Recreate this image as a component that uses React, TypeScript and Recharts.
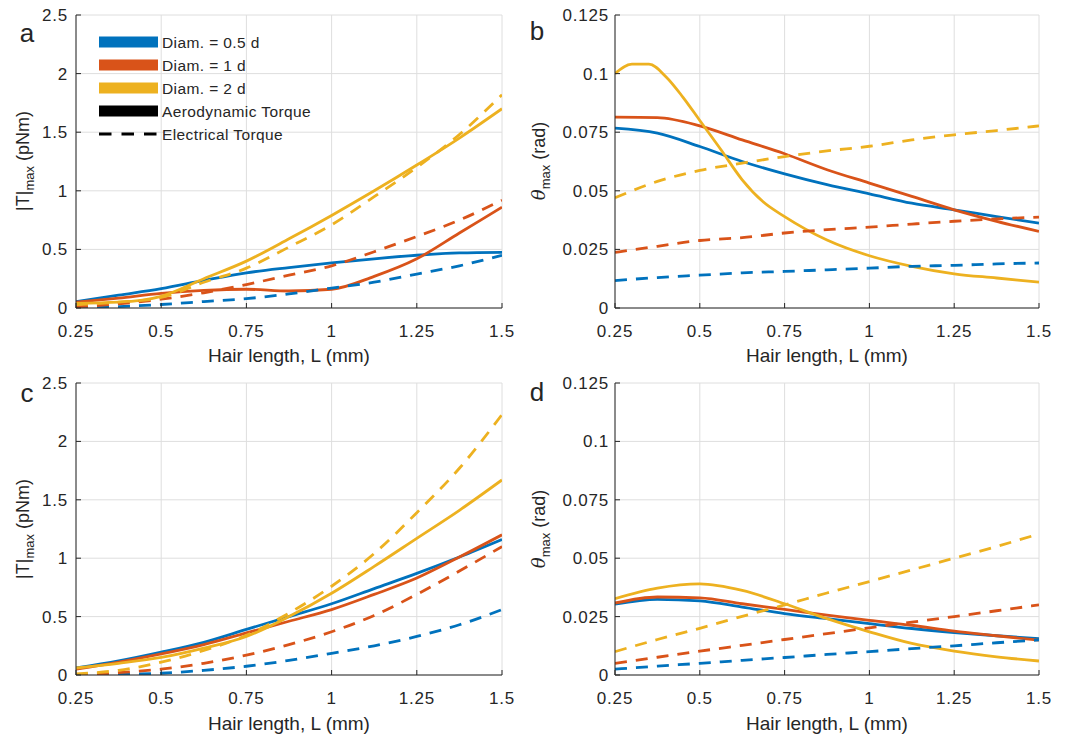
import React from "react";
import { LineChart, Line, XAxis, YAxis, CartesianGrid } from "recharts";

// hair length samples (mm)
const hairLength = [0.25, 0.375, 0.5, 0.625, 0.75, 0.875, 1, 1.125, 1.25, 1.375, 1.5];
// finer sampling for the peaked curve in panel b
const hairLengthFine = [0.25, 0.3, 0.35, 0.4, 0.45, 0.5, 0.5625, 0.625, 0.6875, 0.75, 0.875, 1, 1.125, 1.25, 1.375, 1.5];

const xTicks = [0.25, 0.5, 0.75, 1, 1.25, 1.5];
const torqueTicks = [0, 0.5, 1, 1.5, 2, 2.5];
const angleTicks = [0, 0.025, 0.05, 0.075, 0.1, 0.125];

// panel a: max torque (pNm)
const aBlueSolid = [0.055, 0.11, 0.165, 0.235, 0.3, 0.345, 0.385, 0.42, 0.45, 0.47, 0.475];
const aRedSolid = [0.05, 0.085, 0.125, 0.15, 0.16, 0.145, 0.16, 0.27, 0.42, 0.64, 0.86];
const aYellowSolid = [0.04, 0.05, 0.1, 0.25, 0.4, 0.59, 0.79, 1.0, 1.22, 1.45, 1.7];
const aBlueDash = [0.005, 0.012, 0.03, 0.055, 0.08, 0.12, 0.17, 0.22, 0.29, 0.36, 0.45];
const aRedDash = [0.01, 0.035, 0.075, 0.13, 0.2, 0.28, 0.36, 0.48, 0.61, 0.75, 0.92];
const aYellowDash = [0.03, 0.05, 0.09, 0.22, 0.34, 0.52, 0.71, 0.95, 1.2, 1.48, 1.82];

// panel b: max deflection (rad)
const bBlueSolid = [0.0767, 0.0746, 0.0689, 0.0625, 0.0572, 0.0526, 0.0487, 0.0447, 0.0419, 0.039, 0.0362];
const bRedSolid = [0.0814, 0.0812, 0.0777, 0.0717, 0.0658, 0.059, 0.0533, 0.0476, 0.0419, 0.037, 0.0327];
const bYellowSolid = [0.1, 0.104, 0.104, 0.0987, 0.09, 0.08, 0.0675, 0.0547, 0.0452, 0.039, 0.029, 0.0223, 0.0178, 0.0146, 0.0128, 0.011];
const bBlueDash = [0.0117, 0.013, 0.014, 0.015, 0.0156, 0.0163, 0.017, 0.0178, 0.0182, 0.0188, 0.0192];
const bRedDash = [0.0237, 0.0263, 0.0288, 0.03, 0.032, 0.0334, 0.0345, 0.0358, 0.037, 0.038, 0.0388];
const bYellowDash = [0.047, 0.054, 0.0587, 0.0618, 0.0646, 0.067, 0.069, 0.0717, 0.0739, 0.0757, 0.0777];

// panel c: max torque (pNm)
const cBlueSolid = [0.06, 0.12, 0.195, 0.28, 0.39, 0.5, 0.61, 0.74, 0.87, 1.01, 1.16];
const cRedSolid = [0.05, 0.11, 0.18, 0.26, 0.36, 0.46, 0.56, 0.69, 0.83, 1.01, 1.2];
const cYellowSolid = [0.06, 0.1, 0.15, 0.23, 0.33, 0.5, 0.7, 0.93, 1.17, 1.41, 1.67];
const cBlueDash = [0.0, 0.005, 0.015, 0.04, 0.075, 0.125, 0.185, 0.25, 0.33, 0.43, 0.56];
const cRedDash = [0.0, 0.02, 0.05, 0.1, 0.17, 0.26, 0.37, 0.51, 0.69, 0.89, 1.1];
const cYellowDash = [0.01, 0.04, 0.11, 0.21, 0.34, 0.53, 0.76, 1.04, 1.39, 1.77, 2.23];

// panel d: max deflection (rad)
const dBlueSolid = [0.0303, 0.0324, 0.0317, 0.0291, 0.0263, 0.0241, 0.022, 0.0199, 0.0182, 0.0168, 0.0156];
const dRedSolid = [0.0308, 0.0334, 0.033, 0.0305, 0.0281, 0.0256, 0.0234, 0.0213, 0.0188, 0.0168, 0.0149];
const dYellowSolid = [0.0327, 0.0372, 0.039, 0.0362, 0.0305, 0.0241, 0.0185, 0.0135, 0.0102, 0.0078, 0.006];
const dBlueDash = [0.0025, 0.0038, 0.005, 0.0063, 0.0075, 0.0088, 0.01, 0.0113, 0.0125, 0.0138, 0.015];
const dRedDash = [0.005, 0.0076, 0.0102, 0.0127, 0.0152, 0.0177, 0.0202, 0.0226, 0.025, 0.0275, 0.03];
const dYellowDash = [0.01, 0.0152, 0.02, 0.0251, 0.03, 0.0351, 0.04, 0.045, 0.05, 0.055, 0.0604];

const BLUE = "#0072BD";
const RED = "#D95319";
const YELLOW = "#EDB120";
const INK = "#262626";
const FONT = '"Liberation Sans", Arial, sans-serif';

type Series = { xs: number[]; ys: number[]; color: string; dashed?: boolean };

const toPoints = (xs: number[], ys: number[]) => xs.map((x, i) => ({ x, y: ys[i] }));

const legendRows = [
  { label: "Diam. = 0.5 d", color: BLUE },
  { label: "Diam. = 1 d", color: RED },
  { label: "Diam. = 2 d", color: YELLOW },
  { label: "Aerodynamic Torque", color: "#000" },
  { label: "Electrical Torque", color: "#000", dashed: true },
];

// tick labels drawn by hand so size and spacing stay put
const XTick = (p: any) => (
  <text x={p.x} y={p.y} dy={13} textAnchor="middle" fontSize={17} letterSpacing={0.8} fontFamily={FONT} fill={INK}>
    {String(p.payload.value)}
  </text>
);
const YTick = (p: any) => (
  <text x={p.x} y={p.y} dy={6} textAnchor="end" fontSize={17} letterSpacing={0.8} fontFamily={FONT} fill={INK}>
    {String(p.payload.value)}
  </text>
);

function Panel(props: {
  left: number;
  top: number;
  width: number;
  height: number;
  marginTop: number;
  marginRight: number;
  marginBottom: number;
  yWidth: number;
  yTickMargin: number;
  yMax: number;
  yTicks: number[];
  series: Series[];
}) {
  const { left, top, width, height, series } = props;
  return (
    <div style={{ position: "absolute", left, top }}>
      <LineChart
        width={width}
        height={height}
        margin={{ top: props.marginTop, right: props.marginRight, bottom: props.marginBottom, left: 0 }}
      >
        <CartesianGrid stroke="#dedede" strokeWidth={1} />
        <XAxis
          dataKey="x"
          type="number"
          domain={[0.25, 1.5]}
          ticks={xTicks}
          allowDataOverflow
          height={30}
          axisLine={{ stroke: INK }}
          tickLine={{ stroke: INK }}
          tickSize={-5}
          tickMargin={21}
          tick={XTick}
        />
        <YAxis
          type="number"
          domain={[0, props.yMax]}
          ticks={props.yTicks}
          allowDataOverflow
          width={props.yWidth}
          axisLine={{ stroke: INK }}
          tickLine={{ stroke: INK }}
          tickSize={-5}
          tickMargin={props.yTickMargin}
          tick={YTick}
        />
        {series.map((s, i) => (
          <Line
            key={i}
            data={toPoints(s.xs, s.ys)}
            dataKey="y"
            type="monotone"
            stroke={s.color}
            strokeWidth={2.8}
            strokeDasharray={s.dashed ? "12 9" : undefined}
            dot={false}
            activeDot={false}
            isAnimationActive={false}
          />
        ))}
      </LineChart>
    </div>
  );
}

function TextAt(props: { x: number; y: number; size: number; rotate?: boolean; children: React.ReactNode }) {
  return (
    <div
      style={{
        position: "absolute",
        left: props.x,
        top: props.y,
        transform: `translate(-50%, -50%)${props.rotate ? " rotate(-90deg)" : ""}`,
        fontSize: props.size,
        fontFamily: FONT,
        color: INK,
        whiteSpace: "nowrap",
        lineHeight: 1,
      }}
    >
      {props.children}
    </div>
  );
}

const torqueLabel = (
  <span>
    |T|<sub style={{ fontSize: 13 }}>max</sub> (pNm)
  </span>
);
const angleLabel = (
  <span>
    <i style={{ fontFamily: '"DejaVu Serif", serif' }}>θ</i>
    <sub style={{ fontSize: 13 }}>max</sub> (rad)
  </span>
);

function Legend() {
  return (
    <svg style={{ position: "absolute", left: 0, top: 0 }} width={360} height={150}>
      {legendRows.map((r, i) => {
        const y = 42 + i * 23;
        return (
          <g key={r.label}>
            {r.dashed ? (
              <line x1={99} x2={158} y1={y} y2={y} stroke="#000" strokeWidth={3} strokeDasharray="12.5 10" />
            ) : (
              <rect x={99} y={y - 5.5} width={59} height={11} fill={r.color} />
            )}
            <text x={162} y={y} dominantBaseline="central" fontSize={15.5} letterSpacing={0.4} fontFamily={FONT} fill={INK}>
              {r.label}
            </text>
          </g>
        );
      })}
    </svg>
  );
}

export default function App() {
  const seriesA: Series[] = [
    { xs: hairLength, ys: aBlueSolid, color: BLUE },
    { xs: hairLength, ys: aRedSolid, color: RED },
    { xs: hairLength, ys: aYellowSolid, color: YELLOW },
    { xs: hairLength, ys: aBlueDash, color: BLUE, dashed: true },
    { xs: hairLength, ys: aRedDash, color: RED, dashed: true },
    { xs: hairLength, ys: aYellowDash, color: YELLOW, dashed: true },
  ];
  const seriesB: Series[] = [
    { xs: hairLength, ys: bBlueSolid, color: BLUE },
    { xs: hairLength, ys: bRedSolid, color: RED },
    { xs: hairLengthFine, ys: bYellowSolid, color: YELLOW },
    { xs: hairLength, ys: bBlueDash, color: BLUE, dashed: true },
    { xs: hairLength, ys: bRedDash, color: RED, dashed: true },
    { xs: hairLength, ys: bYellowDash, color: YELLOW, dashed: true },
  ];
  const seriesC: Series[] = [
    { xs: hairLength, ys: cBlueSolid, color: BLUE },
    { xs: hairLength, ys: cRedSolid, color: RED },
    { xs: hairLength, ys: cYellowSolid, color: YELLOW },
    { xs: hairLength, ys: cBlueDash, color: BLUE, dashed: true },
    { xs: hairLength, ys: cRedDash, color: RED, dashed: true },
    { xs: hairLength, ys: cYellowDash, color: YELLOW, dashed: true },
  ];
  const seriesD: Series[] = [
    { xs: hairLength, ys: dBlueSolid, color: BLUE },
    { xs: hairLength, ys: dRedSolid, color: RED },
    { xs: hairLength, ys: dYellowSolid, color: YELLOW },
    { xs: hairLength, ys: dBlueDash, color: BLUE, dashed: true },
    { xs: hairLength, ys: dRedDash, color: RED, dashed: true },
    { xs: hairLength, ys: dYellowDash, color: YELLOW, dashed: true },
  ];

  const xLabel = "Hair length, L (mm)";

  return (
    <div style={{ position: "relative", width: 1073, height: 738, background: "#fff", fontFamily: FONT }}>
      <style>{`body { margin: 0; }`}</style>

      <Panel left={0} top={0} width={540} height={370} marginTop={15} marginRight={38} marginBottom={32}
        yWidth={76} yTickMargin={13} yMax={2.5} yTicks={torqueTicks} series={seriesA} />
      <Panel left={530} top={0} width={543} height={370} marginTop={15} marginRight={34} marginBottom={32}
        yWidth={85} yTickMargin={11} yMax={0.125} yTicks={angleTicks} series={seriesB} />
      <Panel left={0} top={360} width={540} height={378} marginTop={23} marginRight={38} marginBottom={33}
        yWidth={76} yTickMargin={13} yMax={2.5} yTicks={torqueTicks} series={seriesC} />
      <Panel left={530} top={360} width={543} height={378} marginTop={23} marginRight={34} marginBottom={33}
        yWidth={85} yTickMargin={11} yMax={0.125} yTicks={angleTicks} series={seriesD} />

      <Legend />

      {/* panel letters */}
      <TextAt x={27} y={33} size={26}>a</TextAt>
      <TextAt x={537} y={31} size={26}>b</TextAt>
      <TextAt x={27} y={393} size={26}>c</TextAt>
      <TextAt x={537} y={392} size={26}>d</TextAt>

      {/* axis titles */}
      <TextAt x={25} y={161} size={18} rotate>{torqueLabel}</TextAt>
      <TextAt x={541} y={161} size={18} rotate>{angleLabel}</TextAt>
      <TextAt x={25} y={529} size={18} rotate>{torqueLabel}</TextAt>
      <TextAt x={541} y={529} size={18} rotate>{angleLabel}</TextAt>

      <TextAt x={289} y={355} size={19}>{xLabel}</TextAt>
      <TextAt x={827} y={355} size={19}>{xLabel}</TextAt>
      <TextAt x={289} y={723} size={19}>{xLabel}</TextAt>
      <TextAt x={827} y={723} size={19}>{xLabel}</TextAt>
    </div>
  );
}
